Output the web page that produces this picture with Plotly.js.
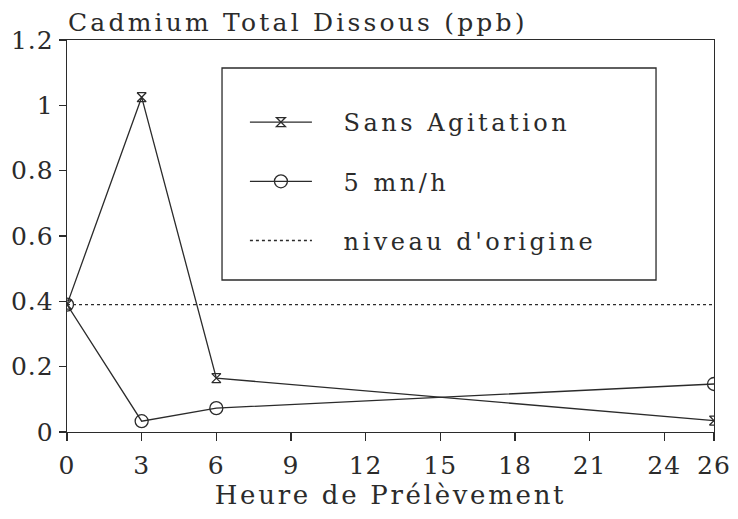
<!DOCTYPE html>
<html>
<head>
<meta charset="utf-8">
<script src="https://cdn.plot.ly/plotly-3.0.1.min.js"></script>
<style>
html,body{margin:0;padding:0;background:#fff;}
#chart{width:738px;height:519px;}
.gtitle{letter-spacing:3.2px;}
.xtitle{letter-spacing:2.7px;}
.legendtext{letter-spacing:3.5px;}
.xtick text,.ytick text{letter-spacing:1px;}
</style>
</head>
<body>
<div id="chart"></div>
<script>
const hours = [0, 3, 6, 26];
const sansAgitation = [0.39, 1.025, 0.165, 0.035];
const cinqMnH = [0.39, 0.033, 0.073, 0.147];
const niveauX = [0, 26];
const niveauY = [0.39, 0.39];
const xTicks = [0, 3, 6, 9, 12, 15, 18, 21, 24, 26];
const yTicks = [0, 0.2, 0.4, 0.6, 0.8, 1, 1.2];
const yTickLabels = ['0', '0.2', '0.4', '0.6', '0.8', '1', '1.2'];
const names = ['Sans Agitation', '5 mn/h', "niveau d'origine"];

const ink = '#2b2b2b';
const fam = '"DejaVu Serif", "Liberation Serif", serif';
const pad = '\u2002 ';

const traces = [
  {x: hours, y: sansAgitation, name: pad + names[0], mode: 'lines+markers', legendgroup: 'a',
   line: {color: ink, width: 1.3},
   marker: {symbol: 'hourglass-open', size: 9, color: ink, line: {color: ink, width: 1.3}}},
  {x: hours, y: cinqMnH, name: pad + names[1], mode: 'lines+markers', legendgroup: 'b',
   line: {color: ink, width: 1.3},
   marker: {symbol: 'circle-open', size: 13, color: ink, line: {color: ink, width: 1.3}}},
  {x: niveauX, y: niveauY, name: pad + names[2], mode: 'lines', legendgroup: 'c',
   line: {color: ink, width: 1.3, dash: 'dot'}}
];

const layout = {
  width: 738, height: 519,
  paper_bgcolor: '#fff', plot_bgcolor: '#fff',
  margin: {l: 67, r: 24, t: 40, b: 87},
  font: {family: fam, color: ink},
  title: {text: 'Cadmium Total Dissous (ppb)', font: {family: fam, size: 25, color: ink},
          x: 0, xref: 'paper', xanchor: 'left', y: 1 - 22/519, yref: 'container', yanchor: 'middle', pad: {l: 1}},
  xaxis: {range: [0, 26], tickvals: xTicks, ticktext: xTicks.map(String),
          showgrid: false, zeroline: false, showline: true, mirror: true,
          linecolor: ink, linewidth: 1.3, ticks: 'outside', ticklen: 8, tickwidth: 1.3, tickcolor: ink,
          tickfont: {family: fam, size: 25, color: ink}, ticklabelstandoff: 3,
          title: {text: 'Heure de Prélèvement', font: {family: fam, size: 26, color: ink}, standoff: 5}},
  yaxis: {range: [0, 1.2], tickvals: yTicks, ticktext: yTickLabels,
          showgrid: false, zeroline: false, showline: true, mirror: true,
          linecolor: ink, linewidth: 1.3, ticks: 'outside', ticklen: 7, tickwidth: 1.3, tickcolor: ink,
          tickfont: {family: fam, size: 25, color: ink}},
  showlegend: true,
  legend: {x: 0.275, y: 0.847, xanchor: 'left', yanchor: 'top', bgcolor: 'rgba(0,0,0,0)',
           borderwidth: 0, itemwidth: 62, traceorder: 'grouped', tracegroupgap: 25,
           font: {family: fam, size: 24, color: ink}},
  shapes: [{type: 'rect', xref: 'paper', yref: 'paper', x0: 0.2396, x1: 0.9104, y0: 0.3878, y1: 0.9286,
            line: {color: ink, width: 1.3}, fillcolor: 'rgba(0,0,0,0)', layer: 'above'}]
};

Plotly.newPlot('chart', traces, layout, {displayModeBar: false, staticPlot: true});
</script>
</body>
</html>
